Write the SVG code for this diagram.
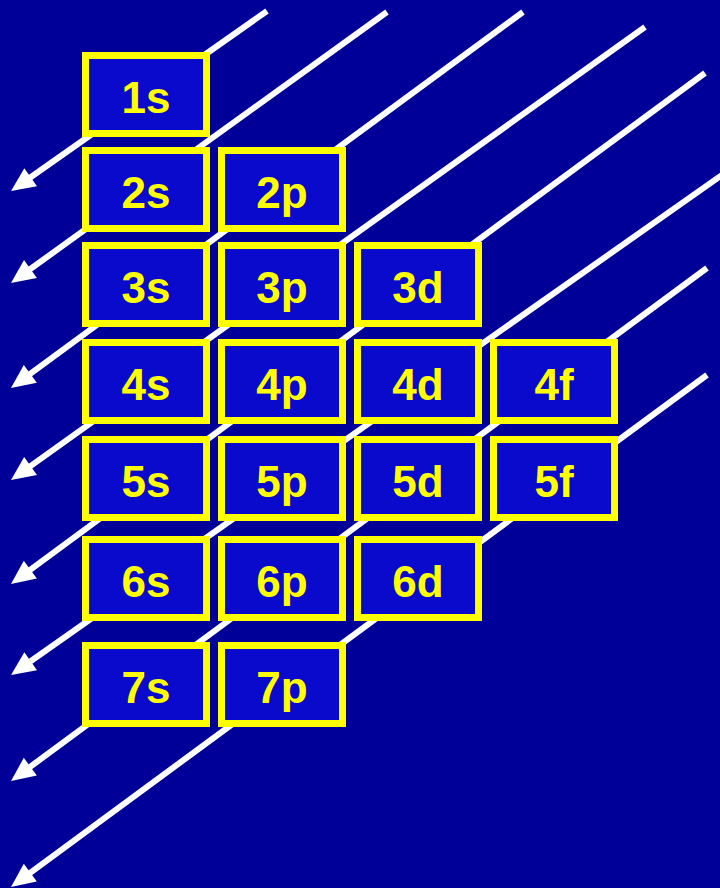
<svg xmlns="http://www.w3.org/2000/svg" width="720" height="888" viewBox="0 0 720 888">
<style>
.bg{fill:#000099}
.ln{stroke:#FFFFFF;stroke-width:6;fill:none;marker-end:url(#ah)}
.box rect{fill:#0A0ACC;stroke:#FFFF00;stroke-width:7}
.box text{fill:#FFFF00;font-family:"Liberation Sans",Arial,sans-serif;font-weight:bold;font-size:44px;text-anchor:middle}
</style>
<defs>
<marker id="ah" markerUnits="userSpaceOnUse" markerWidth="30" markerHeight="30" viewBox="-2 -13 30 26" refX="4" refY="0" orient="auto">
<path d="M0,-11 L24,0 L0,11 Z" fill="#FFFFFF"/>
</marker>
</defs>
<rect class="bg" x="0" y="0" width="720" height="888"/>
<g id="connectors">
<line class="ln" x1="267" y1="11" x2="27.4" y2="179.5"/>
<line class="ln" x1="387" y1="12" x2="27.2" y2="271.3"/>
<line class="ln" x1="523" y1="12" x2="27.1" y2="376.2"/>
<line class="ln" x1="645" y1="27" x2="27.3" y2="468.4"/>
<line class="ln" x1="705" y1="73" x2="27.1" y2="572.1"/>
<line class="ln" x1="722" y1="175" x2="27.4" y2="663.5"/>
<line class="ln" x1="707" y1="268" x2="27.1" y2="769.1"/>
<line class="ln" x1="707" y1="375" x2="27.1" y2="875.1"/>
</g>
<g id="n1s" class="box"><rect x="85.5" y="55.5" width="121" height="78"/><text x="146" y="113">1s</text></g>
<g id="n2s" class="box"><rect x="85.5" y="150.5" width="121" height="78"/><text x="146" y="208">2s</text></g>
<g id="n2p" class="box"><rect x="221.5" y="150.5" width="121" height="78"/><text x="282" y="208">2p</text></g>
<g id="n3s" class="box"><rect x="85.5" y="245.5" width="121" height="78"/><text x="146" y="303">3s</text></g>
<g id="n3p" class="box"><rect x="221.5" y="245.5" width="121" height="78"/><text x="282" y="303">3p</text></g>
<g id="n3d" class="box"><rect x="357.5" y="245.5" width="121" height="78"/><text x="418" y="303">3d</text></g>
<g id="n4s" class="box"><rect x="85.5" y="342.5" width="121" height="78"/><text x="146" y="400">4s</text></g>
<g id="n4p" class="box"><rect x="221.5" y="342.5" width="121" height="78"/><text x="282" y="400">4p</text></g>
<g id="n4d" class="box"><rect x="357.5" y="342.5" width="121" height="78"/><text x="418" y="400">4d</text></g>
<g id="n4f" class="box"><rect x="493.5" y="342.5" width="121" height="78"/><text x="554" y="400">4f</text></g>
<g id="n5s" class="box"><rect x="85.5" y="439.5" width="121" height="78"/><text x="146" y="497">5s</text></g>
<g id="n5p" class="box"><rect x="221.5" y="439.5" width="121" height="78"/><text x="282" y="497">5p</text></g>
<g id="n5d" class="box"><rect x="357.5" y="439.5" width="121" height="78"/><text x="418" y="497">5d</text></g>
<g id="n5f" class="box"><rect x="493.5" y="439.5" width="121" height="78"/><text x="554" y="497">5f</text></g>
<g id="n6s" class="box"><rect x="85.5" y="539.5" width="121" height="78"/><text x="146" y="597">6s</text></g>
<g id="n6p" class="box"><rect x="221.5" y="539.5" width="121" height="78"/><text x="282" y="597">6p</text></g>
<g id="n6d" class="box"><rect x="357.5" y="539.5" width="121" height="78"/><text x="418" y="597">6d</text></g>
<g id="n7s" class="box"><rect x="85.5" y="645.5" width="121" height="78"/><text x="146" y="703">7s</text></g>
<g id="n7p" class="box"><rect x="221.5" y="645.5" width="121" height="78"/><text x="282" y="703">7p</text></g>
</svg>
